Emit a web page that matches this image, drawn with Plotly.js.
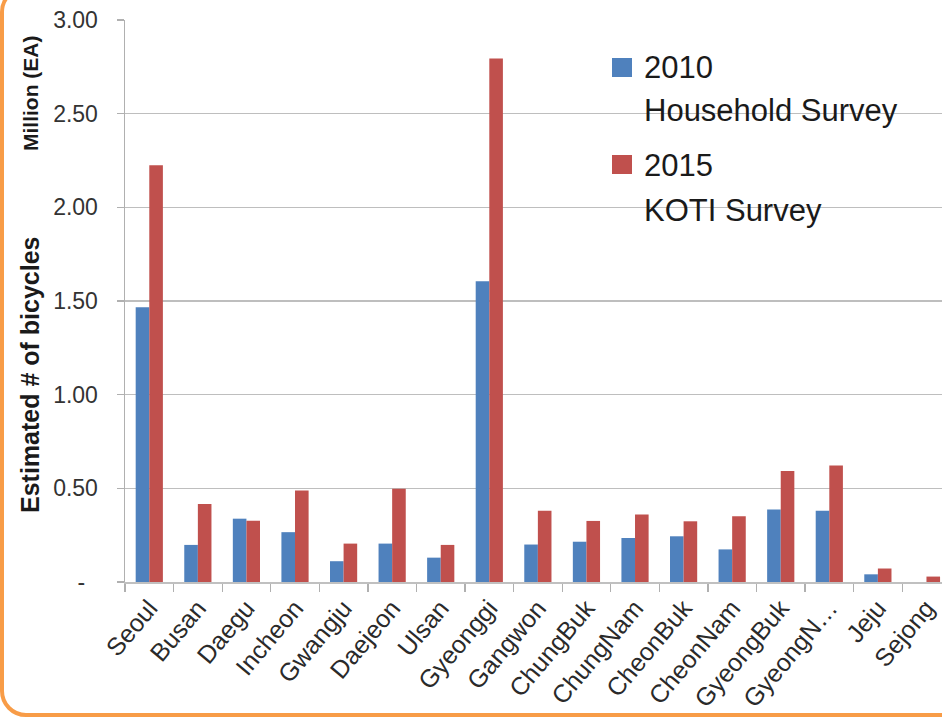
<!DOCTYPE html>
<html>
<head>
<meta charset="utf-8">
<script src="https://cdn.plot.ly/plotly-3.0.1.min.js"></script>
<style>
  html, body { margin: 0; padding: 0; width: 942px; height: 717px; overflow: hidden; background: #ffffff; }
  #chart { position: absolute; left: 0; top: 0; width: 942px; height: 717px; }
  #frame { position: absolute; left: 0; top: -14px; width: 1000px; height: 731px; box-sizing: border-box;
           border: 4px solid #F89C47; border-radius: 26px; pointer-events: none; z-index: 5; }
</style>
</head>
<body>
<div id="chart"></div>
<div id="frame"></div>
<script>
// ---- data ----
const categories = ["Seoul", "Busan", "Daegu", "Incheon", "Gwangju", "Daejeon", "Ulsan", "Gyeonggi",
  "Gangwon", "ChungBuk", "ChungNam", "CheonBuk", "CheonNam", "GyeongBuk", "GyeongN\u2026", "Jeju", "Sejong"];
const survey2010 = [1.467, 0.198, 0.338, 0.266, 0.111, 0.205, 0.130, 1.605, 0.200, 0.215, 0.235, 0.244, 0.174, 0.387, 0.380, 0.041, null];
const survey2015 = [2.225, 0.416, 0.327, 0.488, 0.205, 0.498, 0.198, 2.795, 0.380, 0.326, 0.360, 0.324, 0.351, 0.593, 0.622, 0.072, 0.029];
const seriesNames = ["2010", "2015"];
const seriesSubtitles = ["Household Survey", "KOTI Survey"];
const yTickVals = [0, 0.5, 1.0, 1.5, 2.0, 2.5, 3.0];
const yTickText = ["-\u00a0\u00a0", "0.50", "1.00", "1.50", "2.00", "2.50", "3.00"];
const yTitleMain = "Estimated # of bicycles";
const yTitleUnit = "Million (EA)";

// ---- layout helpers ----
const W = 942, H = 717;
const M = { l: 125, r: 0, t: 20, b: 135 };
const PW = W - M.l - M.r, PH = H - M.t - M.b;
const px = x => (x - M.l) / PW;
const py = y => 1 - (y - M.t) / PH;

const colors = ["#4F81BD", "#C0504D"];
const font = "Liberation Sans, Arial, sans-serif";

const traces = [survey2010, survey2015].map((vals, i) => ({
  type: "bar",
  name: seriesNames[i],
  x: categories,
  y: vals,
  marker: { color: colors[i], line: { width: 0 } },
  showlegend: false,
  hoverinfo: "x+y"
}));

const annotations = [
  { text: "<b>" + yTitleMain + "</b>", x: px(30), y: py(375), textangle: -90, size: 25 },
  { text: "<b>" + yTitleUnit + "</b>", x: px(30), y: py(94), textangle: -90, size: 21 },
  { text: seriesNames[0], x: px(642), y: py(68), xanchor: "left", size: 31 },
  { text: seriesSubtitles[0], x: px(642), y: py(111), xanchor: "left", size: 31 },
  { text: seriesNames[1], x: px(642), y: py(165), xanchor: "left", size: 31 },
  { text: seriesSubtitles[1], x: px(642), y: py(210), xanchor: "left", size: 31 }
].map(a => ({
  xref: "paper", yref: "paper", x: a.x, y: a.y, text: a.text, showarrow: false,
  xanchor: a.xanchor || "center", yanchor: "middle", textangle: a.textangle || 0,
  font: { family: font, size: a.size, color: "#1a1a1a" }
}));

const shapes = [
  { x0: 612, x1: 632, y0: 58, y1: 77, c: colors[0] },
  { x0: 612, x1: 632, y0: 155, y1: 174, c: colors[1] }
].map(s => ({
  type: "rect", xref: "paper", yref: "paper",
  x0: px(s.x0), x1: px(s.x1), y0: py(s.y1), y1: py(s.y0),
  fillcolor: s.c, line: { width: 0 }
}));

const layout = {
  width: W, height: H,
  margin: M,
  paper_bgcolor: "rgba(0,0,0,0)",
  plot_bgcolor: "rgba(0,0,0,0)",
  barmode: "group",
  bargap: 0.44,
  bargroupgap: 0,
  showlegend: false,
  font: { family: font },
  xaxis: {
    type: "category",
    range: [-0.5, 16.32],
    tickangle: -50,
    tickson: "boundaries",
    ticks: "outside",
    ticklen: 8,
    tickwidth: 1.3,
    tickcolor: "#B0B0B0",
    showline: true,
    linecolor: "#C0C0C0",
    linewidth: 1.5,
    showgrid: false,
    tickfont: { family: font, size: 25, color: "#2a2a2a" }
  },
  yaxis: {
    range: [0, 3],
    tickvals: yTickVals,
    ticktext: yTickText,
    ticks: "outside",
    ticklen: 7,
    tickwidth: 1.3,
    tickcolor: "#B0B0B0",
    ticklabelstandoff: 14,
    showline: true,
    linecolor: "#B0B0B0",
    linewidth: 1.5,
    showgrid: true,
    gridcolor: "#BEBEBE",
    gridwidth: 1.5,
    zeroline: false,
    tickfont: { family: font, size: 23, color: "#333333" }
  },
  annotations: annotations,
  shapes: shapes
};

Plotly.newPlot("chart", traces, layout, { displayModeBar: false, staticPlot: true });
</script>
</body>
</html>
